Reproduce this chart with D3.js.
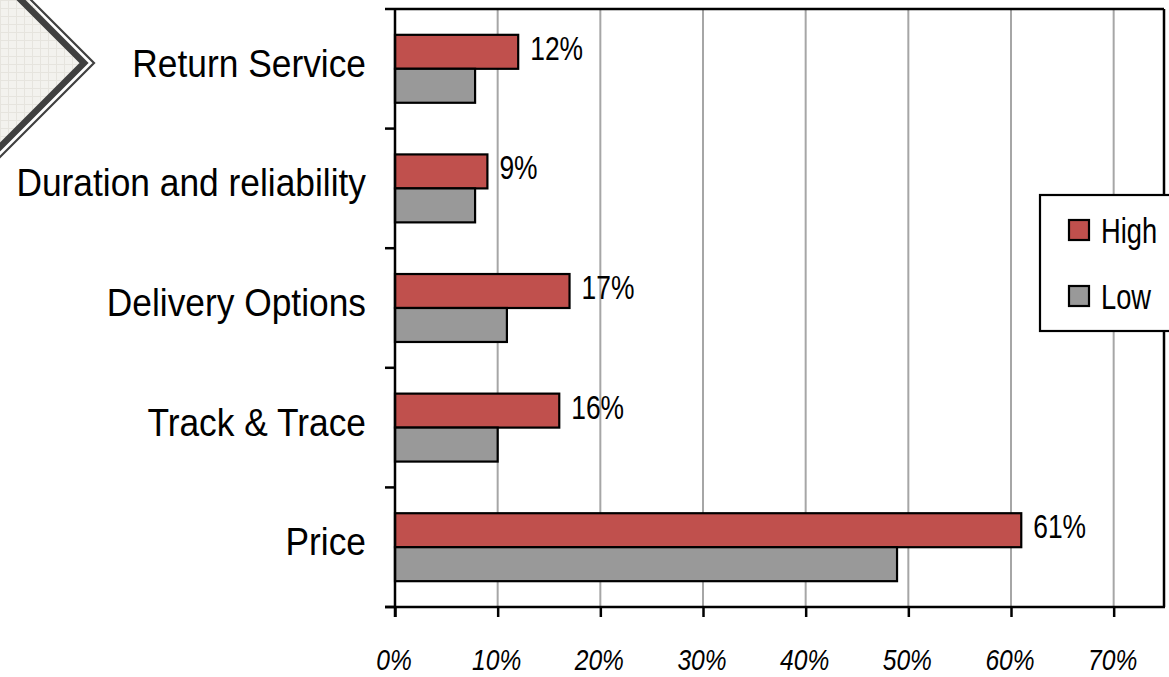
<!DOCTYPE html>
<html><head><meta charset="utf-8">
<script src="https://cdn.jsdelivr.net/npm/d3@7"></script>
<style>html,body{margin:0;padding:0;background:#fff;}svg{display:block;}</style>
</head><body>
<svg id="c" width="1169" height="677"></svg>
<script>
const categories = ["Return Service","Duration and reliability","Delivery Options","Track & Trace","Price"];
const seriesNames = ["High","Low"];
const highValues = [0.12, 0.09, 0.17, 0.16, 0.61];
const lowValues  = [0.078, 0.078, 0.109, 0.10, 0.489];
const highLabels = ["12%","9%","17%","16%","61%"];
const tickValues = [0,0.1,0.2,0.3,0.4,0.5,0.6,0.7];
const tickLabels = ["0%","10%","20%","30%","40%","50%","60%","70%"];

const colors = {High:"#C0504D", Low:"#999999"};
const svg = d3.select("#c");
const L = 395, R = 1164, T = 9, B = 607;

// decoration (top-left chevron)
const defs = svg.append("defs");
const pat = defs.append("pattern").attr("id","tex").attr("width",8).attr("height",8).attr("patternUnits","userSpaceOnUse");
pat.append("rect").attr("width",8).attr("height",8).attr("fill","#F3F2EE");
pat.append("path").attr("d","M0,0.5H8M0.5,0V8").attr("stroke","#E6E4DE").attr("stroke-width",1);
const vy = 63;
const chev = v => `M${v-vy-80},${-80} L${v},${vy} L${v-vy-100},${vy+vy+100}`;
svg.append("path").attr("d", `M-10,-10 L${83-vy},-10 L83,${vy} L-10,${vy+93} Z`).attr("fill","url(#tex)");
svg.append("path").attr("d", chev(84)).attr("fill","none").attr("stroke","#404040").attr("stroke-width",6.5);
svg.append("path").attr("d", chev(94)).attr("fill","none").attr("stroke","#404040").attr("stroke-width",2.2);

const x = d3.scaleLinear().domain([0,0.75]).range([L, R+1]);
const y = d3.scaleBand().domain(categories).range([T, B]).padding(0);
const ys = d3.scaleBand().domain(seriesNames).range([0, y.bandwidth()]).paddingInner(0).paddingOuter(0.76);

// gridlines
svg.append("g").selectAll("line").data(tickValues.slice(1)).join("line")
  .attr("x1", d=>x(d)).attr("x2", d=>x(d)).attr("y1", T).attr("y2", B)
  .attr("stroke","#A6A6A6").attr("stroke-width",2);

// plot border top/right
svg.append("line").attr("x1",L).attr("x2",R).attr("y1",T).attr("y2",T).attr("stroke","#000").attr("stroke-width",2.5);
svg.append("line").attr("x1",R).attr("x2",R).attr("y1",T).attr("y2",B).attr("stroke","#000").attr("stroke-width",2.5);

// bars
const rows = categories.map((c,i)=>({cat:c, High:highValues[i], Low:lowValues[i], label:highLabels[i]}));
const g = svg.append("g");
seriesNames.forEach(s=>{
  g.selectAll("rect."+s).data(rows).join("rect").attr("class",s)
    .attr("x", x(0)).attr("y", d=>y(d.cat)+ys(s))
    .attr("width", d=>x(d[s])-x(0)).attr("height", ys.bandwidth())
    .attr("fill", colors[s]).attr("stroke","#000").attr("stroke-width",2.2);
});

// data labels
svg.append("g").selectAll("text").data(rows).join("text")
  .attr("transform", d=>`translate(${x(d.High)+12},${y(d.cat)+ys("High")+25}) scale(0.8,1)`)
  .attr("font-family","Liberation Sans, Arial, sans-serif").attr("font-size",33).attr("fill","#000")
  .text(d=>d.label);

// axes
const xAxis = d3.axisBottom(x).tickValues(tickValues).tickSize(10).tickFormat("");
const ax = svg.append("g").attr("transform",`translate(0,${B})`).call(xAxis);
ax.select(".domain").remove();
ax.selectAll("line").attr("stroke","#000").attr("stroke-width",2.5);
svg.append("line").attr("x1",L-10).attr("x2",R+1).attr("y1",B).attr("y2",B).attr("stroke","#000").attr("stroke-width",2.5);

svg.append("g").selectAll("text").data(tickValues).join("text")
  .attr("transform",(d,i)=>`translate(${x(d)-1},670) scale(0.82,1)`)
  .attr("text-anchor","middle").attr("font-family","Liberation Sans, Arial, sans-serif")
  .attr("font-style","italic").attr("font-size",30).attr("fill","#000")
  .text((d,i)=>tickLabels[i]);

// left axis
const bandEdges = categories.map(c=>y(c)).concat([B]);
svg.append("g").selectAll("line").data(bandEdges).join("line")
  .attr("x1",L-10).attr("x2",L).attr("y1",d=>d).attr("y2",d=>d).attr("stroke","#000").attr("stroke-width",2.5);
svg.append("line").attr("x1",L).attr("x2",L).attr("y1",T-1).attr("y2",B+10).attr("stroke","#000").attr("stroke-width",2.5);

svg.append("g").selectAll("text").data(categories).join("text")
  .attr("transform", c=>`translate(366,${y(c)+y.bandwidth()/2+8}) scale(0.93,1)`)
  .attr("text-anchor","end").attr("font-family","Liberation Sans, Arial, sans-serif")
  .attr("font-size",38).attr("fill","#000").text(c=>c);

// legend
const lg = svg.append("g");
lg.append("rect").attr("x",1040).attr("y",195).attr("width",150).attr("height",136)
  .attr("fill","#fff").attr("stroke","#000").attr("stroke-width",2.2);
seriesNames.forEach((s,i)=>{
  lg.append("rect").attr("x",1069).attr("y",220+i*66).attr("width",20).attr("height",20)
    .attr("fill",colors[s]).attr("stroke","#000").attr("stroke-width",2.2);
  lg.append("text").attr("transform",`translate(1101,${243+i*66}) scale(0.78,1)`)
    .attr("font-family","Liberation Sans, Arial, sans-serif").attr("font-size",35).attr("fill","#000").text(s);
});
</script>
</body></html>
